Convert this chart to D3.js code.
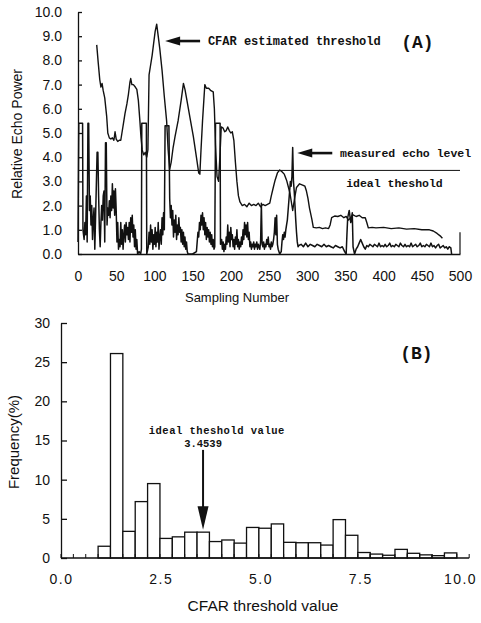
<!DOCTYPE html>
<html>
<head>
<meta charset="utf-8">
<script src="https://cdn.jsdelivr.net/npm/d3@7"></script>
<style>
  body { margin: 0; background: #fff; }
  svg { display: block; }
  .tick text { font-family: "Liberation Sans", Arial, sans-serif; fill: #111; }
  .mono { font-family: "Liberation Mono", "Courier New", monospace; font-weight: bold; fill: #111; }
  .lab { font-family: "Liberation Sans", Arial, sans-serif; fill: #111; }
</style>
</head>
<body>
<div id="chart"></div>
<script>
// Panel A: measured echo level (sample, relative power)
const echoLevel = [
  [0,0.5],[1,5.4],[6,5.4],[6.5,1.0],[8,0.6],[9,1.3],[10,0.8],[11,2.4],[12,0.5],[13,5.4],[14,5.4],[15,1.8],
  [16,2.4],[17,1.2],[18,2.0],[19,0.6],[20,1.4],[21,1.9],[22,0.2],[23,1.5],[25,4.2],[26,4.2],[27,2.4],[28,1.0],
  [29,0.3],[30,1.3],[31,2.0],[32,1.4],[33,2.4],[34,2.6],[35,0.5],[36,4.6],[37,4.6],[38,1.2],[39,1.9],[40,1.6],
  [41,2.2],[42,1.5],[43,2.4],[44,1.8],[45,2.9],[46,1.9],[47,2.6],[48,1.6],[49,2.7],[50,1.8],[51,0.5],[52,1.3],
  [53,0.2],[54,0.6],[55,0.3],[56,1.3],[57,0.4],[58,1.0],[59,0.2],[60,0.8],[61,1.2],[62,0.5],[63,1.3],[64,0.8],
  [65,1.1],[66,0.6],[67,1.3],[68,0.5],[69,1.5],[70,0.9],[71,1.6],[72,0.7],[73,1.2],[74,0.3],[75,1.0],[76,0.2],
  [77,0.6],[78,0.0],[80,0.1],[82,0.0],[83,0.2],[83.5,5.4],[89.5,5.4],[90,0.0],[92,0.3],[93,0.9],[94,0.4],
  [95,1.2],[96,0.5],[97,1.0],[98,0.2],[99,0.8],[100,0.4],[101,1.1],[102,0.3],[103,0.9],[104,0.5],[105,1.3],
  [106,0.2],[107,0.7],[108,1.0],[109,0.4],[110,1.5],[111,0.8],[112,1.7],[113,1.0],[114,5.3],[119,5.3],
  [120,2.3],[121,1.5],[122,2.0],[123,1.2],[124,1.8],[125,0.7],[126,1.4],[127,0.9],[128,1.6],[129,0.6],
  [130,1.2],[131,0.8],[132,1.5],[133,0.9],[134,1.1],[135,0.5],[136,1.0],[137,0.4],[138,0.9],[139,0.3],
  [140,0.7],[141,0.2],[142,0.5],[143,0.1],[144,0.0],[150,0.0],[155,0.1],[156,0.5],[157,0.9],[158,0.7],
  [159,1.3],[160,1.0],[161,1.6],[162,1.2],[163,1.7],[164,1.0],[165,1.5],[166,0.8],[167,1.3],[168,0.6],
  [169,1.1],[170,0.7],[171,1.0],[172,0.5],[173,0.9],[174,0.4],[175,0.8],[176,0.3],[177,0.6],[178,0.2],
  [179,0.3],[180,5.4],[186,5.4],[186.5,0.4],[188,0.6],[189,0.2],[190,0.5],[191,0.1],[192,0.4],[193,0.2],
  [194,0.7],[195,0.4],[196,1.2],[197,0.5],[198,0.9],[199,0.3],[200,1.1],[201,0.6],[202,0.8],[203,0.3],
  [204,0.6],[205,0.2],[206,0.7],[207,0.4],[208,1.0],[209,0.3],[210,0.6],[211,0.2],[212,0.5],[213,0.3],
  [214,0.7],[215,0.4],[216,1.0],[217,0.6],[218,1.3],[219,0.8],[220,1.2],[221,0.7],[222,1.3],[223,0.6],
  [224,0.9],[225,0.3],[226,0.5],[227,0.2],[228,0.4],[229,0.3],[230,0.5],[231,0.2],[232,0.4],[233,0.3],
  [234,0.5],[235,0.2],[236,0.4],[237,0.3],[238,0.2],[239,0.5],[240,2.1],[241,0.4],[242,0.3],[243,0.5],
  [244,0.2],[245,0.4],[246,0.3],[247,0.6],[248,0.4],[249,0.7],[250,0.3],[251,0.4],[252,0.2],[253,0.5],
  [254,0.3],[255,0.4],[256,0.6],[257,0.9],[258,1.5],[259,0.8],[260,1.6],[261,0.4],[262,0.2],[263,0.1],
  [264,0.0],[266,0.1],[267,0.5],[268,0.8],[269,0.6],[270,0.9],[271,0.7],[272,1.0],[273,1.2],[274,1.4],
  [275,1.8],[276,2.2],[277,2.6],[278,3.0],[279,2.8],[280,3.2],[281,4.4],[282,3.0],[283,2.6],[284,2.0],
  [285,1.4],[286,0.9],[287,0.5],[288,0.3],[289,0.35],[292,0.4],[295,0.3],[298,0.45],[301,0.3],[304,0.4],
  [307,0.35],[310,0.3],[313,0.4],[316,0.35],[319,0.3],[322,0.4],[325,0.3],[328,0.35],[331,0.3],[334,0.25],
  [337,0.35],[340,0.3],[343,0.25],[346,0.3],[349,0.1],[351,0.0],[352,0.8],[353,1.5],[355,1.8],[357,1.3],
  [359,1.7],[360,0.3],[362,0.0],[364,0.2],[366,0.3],[368,0.45],[370,0.6],[372,0.45],[374,0.3],[376,0.2],
  [378,0.35],[380,0.3],[382,0.4],[384,0.35],[386,0.3],[388,0.4],[390,0.35],[392,0.3],[394,0.45],[396,0.3],
  [398,0.35],[400,0.3],[402,0.4],[404,0.3],[406,0.35],[408,0.45],[410,0.3],[412,0.35],[414,0.3],[416,0.4],
  [418,0.35],[420,0.3],[422,0.45],[424,0.35],[426,0.3],[428,0.4],[430,0.3],[432,0.35],[434,0.3],[436,0.45],
  [438,0.3],[440,0.35],[442,0.4],[444,0.3],[446,0.35],[448,0.45],[450,0.3],[452,0.35],[454,0.3],[456,0.4],
  [458,0.35],[460,0.3],[462,0.45],[464,0.3],[466,0.35],[468,0.25],[470,0.35],[472,0.4],[474,0.25],
  [476,0.3],[478,0.35],[480,0.25],[482,0.3],[484,0.2],[486,0.3],[488,0.25],[489,0.0]
];

// Panel A: CFAR estimated threshold (sample, value)
const cfarThreshold = [
  [24.5,8.64],[26.5,7.9],[28.5,7.2],[30,6.9],[31.5,7.05],[33,6.75],[35,6.45],[37.5,5.7],[39,5.0],[41,4.8],
  [43,4.75],[45,4.8],[47,4.7],[48.5,5.05],[50,4.75],[52,4.65],[54,4.7],[56,4.7],[57.5,5.0],[59.5,5.4],
  [61.5,5.8],[64,6.2],[66,6.6],[68,7.1],[69,7.25],[70.5,7.0],[72.5,7.0],[75,6.9],[77,6.8],[79,6.35],
  [81,5.5],[82.5,4.8],[84,4.3],[86,4.1],[88,4.2],[90,4.0],[91.5,4.3],[93,7.4],[95,7.8],[97,8.2],[99,8.7],
  [101,9.2],[103,9.5],[105,9.0],[107,8.5],[110,7.6],[113,6.5],[116,5.5],[118,4.3],[120,3.5],[122,3.8],
  [124.5,4.4],[127,4.85],[131,5.5],[135,6.35],[138,7.05],[140,6.8],[142,6.45],[146.5,5.65],[151,4.85],
  [155,4.0],[158,3.35],[159.5,3.3],[161,4.3],[163,5.5],[166,7.0],[168,6.85],[171,6.85],[174,6.75],
  [177,6.7],[178.5,6.0],[180,4.5],[182,3.2],[184,3.0],[186,4.2],[187.5,5.25],[190,5.2],[192,5.05],
  [194,5.1],[196,5.25],[198,5.1],[200,5.0],[202,5.05],[204,4.7],[206,3.8],[208,3.0],[210,2.4],[212,2.15],
  [215,2.0],[218,2.05],[221,1.95],[224,2.1],[227,2.0],[230,2.05],[233,2.0],[236,2.1],[239,1.95],[242,2.05],
  [245,2.0],[248,2.05],[251,2.1],[253,2.4],[256,2.8],[258,3.05],[261,3.35],[264,3.47],[267,3.4],[270,3.3],
  [273,3.05],[275.5,2.75],[277.5,2.5],[279,2.2],[281,1.8],[283,2.2],[286,2.75],[290,2.9],[294,2.85],
  [297,2.8],[299,2.6],[301,2.3],[303,1.9],[306,1.45],[308,1.1],[312,1.08],[316,1.1],[320,1.05],[324,1.08],
  [328,1.05],[330,1.2],[332,1.5],[336,1.57],[340,1.55],[344,1.6],[348,1.5],[351,1.55],[354,1.4],[357,1.5],
  [360,1.62],[364,1.55],[368,1.6],[372,1.5],[376,1.5],[378,1.3],[380,1.08],[385,1.1],[390,1.08],[400,1.1],
  [410,1.05],[420,1.08],[430,1.03],[440,1.05],[450,1.0],[460,1.0],[465,0.95],[470,0.85],[474,0.75],[477,0.65]
];

const idealThreshold = 3.4539;
const xTicksA = [0, 50, 100, 150, 200, 250, 300, 350, 400, 450, 500];
const yTicksA = [0, 1, 2, 3, 4, 5, 6, 7, 8, 9, 10];

// Panel B: histogram of CFAR threshold values
const binWidth = 0.31;
const frequency = [0, 0, 0, 1.5, 26.1, 3.4, 7.2, 9.5, 2.5, 2.7, 3.3, 3.3, 2.1, 2.3, 1.9, 3.9,
  3.8, 4.35, 2.0, 1.95, 1.95, 1.65, 4.9, 2.9, 0.7, 0.5, 0.35, 1.1, 0.6, 0.4, 0.3, 0.65];
const xTicksB = [0, 2.5, 5, 7.5, 10];
const yTicksB = [0, 5, 10, 15, 20, 25, 30];

const svg = d3.select('#chart').append('svg')
    .attr('width', 481)
    .attr('height', 623);

// ---------- Panel A ----------
const xA = d3.scaleLinear().domain([0, 500]).range([78, 460]);
const yA = d3.scaleLinear().domain([0, 10]).range([254, 12]);

const gA = svg.append('g');

gA.append('g')
    .attr('transform', `translate(${xA(0)},0)`)
    .call(d3.axisLeft(yA).tickValues(yTicksA).tickFormat(d3.format('.1f'))
      .tickSizeInner(-4).tickSizeOuter(0).tickPadding(16))
    .call(g => g.selectAll('text').style('font-size', '14px'))
    .call(g => g.selectAll('path,line').attr('stroke', '#111').attr('stroke-width', 1.3));

gA.append('g')
    .attr('transform', `translate(0,${yA(0)})`)
    .call(d3.axisBottom(xA).tickValues(xTicksA).tickFormat(d3.format('d'))
      .tickSizeInner(0).tickSizeOuter(0).tickPadding(17))
    .call(g => g.selectAll('text').style('font-size', '14px'))
    .call(g => g.selectAll('path,line').attr('stroke', '#111').attr('stroke-width', 1.4));

// short closing tick at the right end
gA.append('line')
    .attr('x1', xA(500)).attr('x2', xA(500))
    .attr('y1', yA(0)).attr('y2', yA(0.9))
    .attr('stroke', '#111').attr('stroke-width', 1.2);

// ideal threshold
gA.append('line')
    .attr('x1', xA(0)).attr('x2', xA(500))
    .attr('y1', yA(idealThreshold)).attr('y2', yA(idealThreshold))
    .attr('stroke', '#111').attr('stroke-width', 1);

const lineA = d3.line().x(d => xA(d[0])).y(d => yA(d[1]));

gA.append('path')
    .datum(echoLevel)
    .attr('d', lineA)
    .attr('fill', 'none')
    .attr('stroke', '#111')
    .attr('stroke-width', 1.5)
    .attr('stroke-linejoin', 'round');

gA.append('path')
    .datum(cfarThreshold)
    .attr('d', lineA)
    .attr('fill', 'none')
    .attr('stroke', '#111')
    .attr('stroke-width', 1.4)
    .attr('stroke-linejoin', 'round');

// horizontal arrow pointing left, tip at (x, y)
function leftArrow(g, x, y, len) {
  g.append('line')
      .attr('x1', x + 10).attr('x2', x + len)
      .attr('y1', y).attr('y2', y)
      .attr('stroke', '#111').attr('stroke-width', 2.6);
  g.append('path')
      .attr('d', `M${x},${y} L${x + 15},${y - 4.5} L${x + 15},${y + 4.5} Z`)
      .attr('fill', '#111');
}

leftArrow(gA, xA(114), yA(8.8), 35);
leftArrow(gA, xA(287), yA(4.17), 35);

gA.append('text')
    .attr('class', 'mono')
    .attr('x', xA(170)).attr('y', yA(8.8) + 4)
    .style('font-size', '12px')
    .text('CFAR estimated threshold');

gA.append('text')
    .attr('class', 'mono')
    .attr('x', xA(343)).attr('y', yA(4.17) + 4)
    .style('font-size', '11.5px')
    .text('measured echo level');

gA.append('text')
    .attr('class', 'mono')
    .attr('x', xA(351)).attr('y', yA(2.93) + 4)
    .style('font-size', '11.5px')
    .text('ideal theshold');

gA.append('text')
    .attr('class', 'mono')
    .attr('x', xA(423)).attr('y', yA(8.76) + 6)
    .style('font-size', '18px')
    .text('(A)');

gA.append('text')
    .attr('class', 'lab')
    .attr('transform', 'translate(22,134) rotate(-90)')
    .attr('text-anchor', 'middle')
    .style('font-size', '14px')
    .text('Relative Echo Power');

gA.append('text')
    .attr('class', 'lab')
    .attr('x', 237).attr('y', 302)
    .attr('text-anchor', 'middle')
    .style('font-size', '13px')
    .text('Sampling Number');

// ---------- Panel B ----------
const xB = d3.scaleLinear().domain([0, 10]).range([61, 460]);
const yB = d3.scaleLinear().domain([0, 30]).range([558, 323]);

const gB = svg.append('g');

gB.selectAll('rect')
    .data(frequency)
    .join('rect')
      .attr('x', (d, i) => xB(i * binWidth))
      .attr('y', d => yB(d))
      .attr('width', xB(binWidth) - xB(0))
      .attr('height', d => yB(0) - yB(d))
      .attr('fill', 'white')
      .attr('stroke', '#111')
      .attr('stroke-width', 1.3);

gB.append('g')
    .attr('transform', `translate(${xB(0)},0)`)
    .call(d3.axisLeft(yB).tickValues(yTicksB).tickFormat(d3.format('d'))
      .tickSizeInner(-6).tickSizeOuter(0).tickPadding(11))
    .call(g => g.selectAll('text').style('font-size', '14px'))
    .call(g => g.selectAll('path,line').attr('stroke', '#111').attr('stroke-width', 1.3));

// baseline with small bin-edge ticks, running one bin past the last bar
const edges = d3.range(frequency.length + 2).map(i => i * binWidth);
gB.append('line')
    .attr('x1', xB(0)).attr('x2', xB(edges[edges.length - 1]))
    .attr('y1', yB(0)).attr('y2', yB(0))
    .attr('stroke', '#111').attr('stroke-width', 1.3);
gB.selectAll('line.edge')
    .data(edges)
    .join('line')
      .attr('class', 'edge')
      .attr('x1', d => xB(d)).attr('x2', d => xB(d))
      .attr('y1', yB(0)).attr('y2', yB(0) - 4)
      .attr('stroke', '#111').attr('stroke-width', 1);

gB.append('g')
    .attr('transform', `translate(0,${yB(0)})`)
    .call(d3.axisBottom(xB).tickValues(xTicksB).tickFormat(d3.format('.1f'))
      .tickSizeInner(0).tickSizeOuter(0).tickPadding(16))
    .call(g => g.select('.domain').remove())
    .call(g => g.selectAll('text').style('font-size', '14px').style('letter-spacing', '1.5px'));

// annotation arrow for the ideal threshold
const arrowX = xB(3.56);
gB.append('line')
    .attr('x1', arrowX).attr('x2', arrowX)
    .attr('y1', yB(13.8)).attr('y2', yB(6.5))
    .attr('stroke', '#111').attr('stroke-width', 2);
gB.append('path')
    .attr('d', `M${arrowX},${yB(3.6)} L${arrowX - 5.5},${yB(6.6)} L${arrowX + 5.5},${yB(6.6)} Z`)
    .attr('fill', '#111');

gB.append('text')
    .attr('class', 'mono')
    .attr('x', xB(2.2)).attr('y', yB(15.8))
    .style('font-size', '10.5px')
    .style('letter-spacing', '0.5px')
    .text('ideal theshold value');

gB.append('text')
    .attr('class', 'mono')
    .attr('x', arrowX).attr('y', yB(14.2))
    .attr('text-anchor', 'middle')
    .style('font-size', '10.5px')
    .text('3.4539');

gB.append('text')
    .attr('class', 'mono')
    .attr('x', xB(8.5)).attr('y', yB(26.2) + 6)
    .style('font-size', '18px')
    .text('(B)');

gB.append('text')
    .attr('class', 'lab')
    .attr('transform', 'translate(19,442) rotate(-90)')
    .attr('text-anchor', 'middle')
    .style('font-size', '15px')
    .text('Frequency(%)');

gB.append('text')
    .attr('class', 'lab')
    .attr('x', 263).attr('y', 611)
    .attr('text-anchor', 'middle')
    .style('font-size', '15.5px')
    .text('CFAR threshold value');
</script>
</body>
</html>
